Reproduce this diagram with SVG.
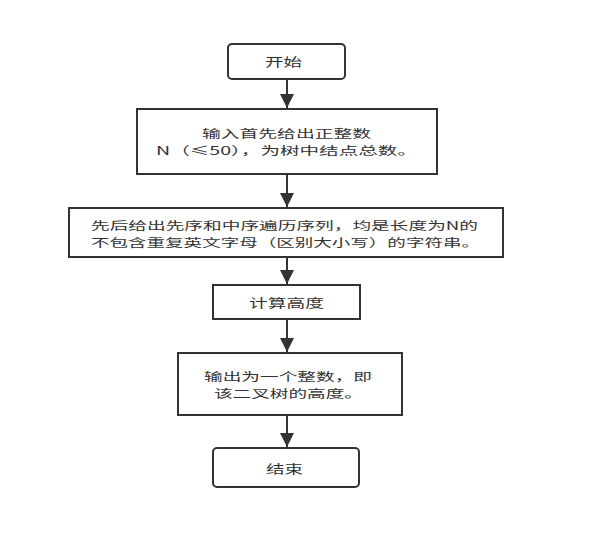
<svg xmlns="http://www.w3.org/2000/svg" width="593" height="546" viewBox="0 0 593 546">
<style>
.box{fill:#fff;stroke:#333;stroke-width:2}
.t{font-family:"Noto Sans CJK SC","Liberation Sans",sans-serif;font-size:12.5px;fill:#333}
.s{font-size:11.6px}
.c{stroke:#333;stroke-width:2;fill:none}
</style>
<defs>
<marker id="ah" markerUnits="userSpaceOnUse" markerWidth="14" markerHeight="14" viewBox="0 0 14 14" refX="14" refY="7" orient="auto">
<path d="M0,0 L14,7 L0,14 Z" fill="#333"/>
</marker>
</defs>
<rect width="593" height="546" fill="#fff"/>
<g id="connectors">
<line class="c" x1="287" y1="79" x2="287" y2="108" marker-end="url(#ah)"/>
<line class="c" x1="287" y1="174" x2="287" y2="207" marker-end="url(#ah)"/>
<line class="c" x1="287" y1="257" x2="287" y2="284" marker-end="url(#ah)"/>
<line class="c" x1="287" y1="319" x2="287" y2="352" marker-end="url(#ah)"/>
<line class="c" x1="287" y1="415" x2="287" y2="447" marker-end="url(#ah)"/>
</g>
<g id="start">
<rect class="box" x="228" y="44" width="117" height="35" rx="4"/>
<text class="t" x="265" y="67" textLength="37" lengthAdjust="spacingAndGlyphs">开始</text>
</g>
<g id="input">
<rect class="box" x="137" y="109" width="300" height="65"/>
<text class="t s" x="202" y="138" textLength="169" lengthAdjust="spacingAndGlyphs">输入首先给出正整数</text>
<text class="t s" x="156" y="155" textLength="261" lengthAdjust="spacingAndGlyphs">N（≤50），为树中结点总数。</text>
</g>
<g id="sequences">
<rect class="box" x="69" y="208" width="434" height="49"/>
<text class="t s" x="91" y="230" textLength="387" lengthAdjust="spacingAndGlyphs">先后给出先序和中序遍历序列，均是长度为N的</text>
<text class="t s" x="91" y="247" textLength="389" lengthAdjust="spacingAndGlyphs">不包含重复英文字母（区别大小写）的字符串。</text>
</g>
<g id="compute">
<rect class="box" x="213" y="285" width="147" height="34"/>
<text class="t" x="249" y="308" textLength="75" lengthAdjust="spacingAndGlyphs">计算高度</text>
</g>
<g id="output">
<rect class="box" x="178" y="353" width="224" height="62"/>
<text class="t s" x="204" y="381" textLength="168" lengthAdjust="spacingAndGlyphs">输出为一个整数，即</text>
<text class="t s" x="214" y="398" textLength="149" lengthAdjust="spacingAndGlyphs">该二叉树的高度。</text>
</g>
<g id="end">
<rect class="box" x="213" y="448" width="146" height="39" rx="4"/>
<text class="t" x="266" y="474" textLength="37" lengthAdjust="spacingAndGlyphs">结束</text>
</g>
</svg>
